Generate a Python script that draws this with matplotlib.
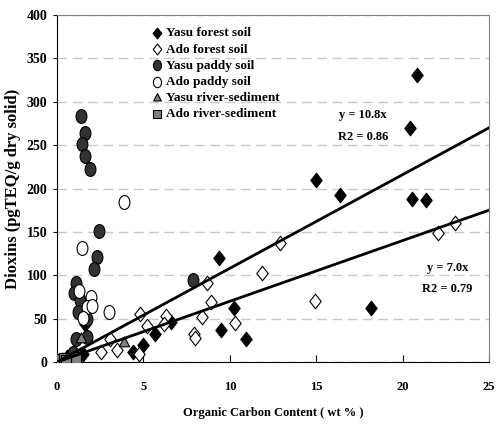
import matplotlib.pyplot as plt
import numpy as np
from matplotlib.path import Path
from matplotlib.transforms import Affine2D

plt.rcParams['font.family'] = ['Liberation Serif', 'DejaVu Serif']
plt.rcParams['font.weight'] = 'bold'

# Yasu forest soil
yasu_forest_x = [0.6, 1.0, 1.52, 1.62, 4.38, 4.99, 5.67, 6.6, 9.38, 9.5, 10.26, 10.94,
                 14.97, 16.38, 18.15, 20.43, 20.85, 20.56, 21.35]
yasu_forest_y = [6, 8, 9, 44, 12, 20, 32, 46, 120, 37, 62, 27,
                 210, 193, 62, 270, 331, 188, 187]
# Ado forest soil
ado_forest_x = [2.53, 3.07, 3.49, 4.75, 4.8, 5.19, 6.3, 6.2, 7.9, 8.0, 8.37, 8.66, 8.9,
                10.3, 11.88, 12.9, 14.93, 22.03, 23.03]
ado_forest_y = [11, 27, 14, 9, 55, 42, 53, 44, 32, 28, 52, 91, 69,
                45, 103, 137, 70, 149, 160]
# Yasu paddy soil
yasu_paddy_x = [1.37, 1.64, 1.47, 1.62, 1.91, 2.42, 2.3, 2.14, 1.1, 0.96, 1.33, 1.2,
                1.72, 1.12, 1.72, 7.85, 0.9]
yasu_paddy_y = [284, 264, 251, 238, 223, 151, 121, 107, 91, 80, 71, 58,
                50, 27, 29, 95, 10]
# Ado paddy soil
ado_paddy_x = [3.9, 1.43, 1.27, 1.95, 1.75, 2.0, 3.03, 1.49]
ado_paddy_y = [185, 132, 82, 75, 63, 64, 58, 51]
# Yasu river-sediment
yasu_river_x = [0.0, 0.3, 0.6, 1.4, 3.9]
yasu_river_y = [1, 3, 5, 26, 22]
# Ado river-sediment
ado_river_x = [0.1, 0.4, 0.8, 1.1, 0.5]
ado_river_y = [2, 3, 4, 5, 1]

slope_yasu = 10.8
slope_ado = 7.0

# the source picture is stretched vertically, so markers are taller than wide
squash = Affine2D().scale(0.78, 1.0)
m_diamond = squash.transform_path(Path([(0, 1), (1, 0), (0, -1), (-1, 0), (0, 1)], closed=True))
m_circle = squash.transform_path(Path.unit_circle())
m_triangle = Affine2D().scale(0.9, 1.0).transform_path(Path.unit_regular_polygon(3))
m_square = Affine2D().translate(-0.5, -0.5).scale(0.85, 1.0).transform_path(Path.unit_rectangle())

fig = plt.figure(figsize=(4.97, 4.24), dpi=100)
ax = fig.add_axes([0.1147, 0.1462, 0.8693, 0.8184])

ax.grid(True, axis='y', color='#c8c8c8', linestyle=(0, (7, 4)), linewidth=1)
ax.set_axisbelow(True)

ax.scatter(yasu_forest_x, yasu_forest_y, marker=m_diamond, s=110, c='black', edgecolors='black',
           linewidths=0.8, label='Yasu forest soil', zorder=3)
ax.scatter(ado_forest_x, ado_forest_y, marker=m_diamond, s=110, c='white', edgecolors='black',
           linewidths=0.8, label='Ado forest soil', zorder=3)
ax.scatter(yasu_paddy_x, yasu_paddy_y, marker=m_circle, s=100, c='#333333', edgecolors='black',
           linewidths=0.8, label='Yasu paddy soil', zorder=3)
ax.scatter(ado_paddy_x, ado_paddy_y, marker=m_circle, s=100, c='white', edgecolors='black',
           linewidths=0.8, label='Ado paddy soil', zorder=3)
ax.scatter(yasu_river_x, yasu_river_y, marker=m_triangle, s=90, c='#808080', edgecolors='black',
           linewidths=0.8, label='Yasu river-sediment', zorder=3)
ax.scatter(ado_river_x, ado_river_y, marker=m_square, s=65, c='#808080', edgecolors='black',
           linewidths=0.8, label='Ado river-sediment', zorder=3)

xs = np.array([0, 25])
ax.plot(xs, slope_yasu * xs, color='black', linewidth=2, zorder=4)
ax.plot(xs, slope_ado * xs, color='black', linewidth=2, zorder=4)

ax.text(17.7, 285, 'y = 10.8x', ha='center', va='center', fontsize=9, fontweight='bold')
ax.text(17.7, 259, 'R2 = 0.86', ha='center', va='center', fontsize=9, fontweight='bold')
ax.text(22.6, 108, 'y = 7.0x', ha='center', va='center', fontsize=9, fontweight='bold')
ax.text(22.6, 84, 'R2 = 0.79', ha='center', va='center', fontsize=9, fontweight='bold')

ax.set_xlim(0, 25)
ax.set_ylim(0, 400)
ax.set_xticks(np.arange(0, 26, 5))
ax.set_yticks(np.arange(0, 401, 50))
ax.tick_params(axis='x', direction='in', length=5, labelsize=9, pad=14)
ax.tick_params(axis='y', direction='out', length=3, labelsize=10, pad=4)
for lab in ax.get_xticklabels() + ax.get_yticklabels():
    lab.set_fontweight('bold')

ax.spines['left'].set_color('black')
ax.spines['bottom'].set_color('black')
ax.spines['top'].set_color('#808080')
ax.spines['right'].set_color('#808080')

ax.set_xlabel('Organic Carbon Content ( wt % )', fontsize=9, fontweight='bold', labelpad=10)
ax.set_ylabel('Dioxins (pgTEQ/g dry solid)', fontsize=12, fontweight='bold', labelpad=4)

leg = ax.legend(loc='upper left', bbox_to_anchor=(0.2, 0.98), frameon=False, fontsize=9.5,
                handletextpad=0.1, labelspacing=0.3, borderaxespad=0, handlelength=1.2,
                markerscale=0.75)
for t in leg.get_texts():
    t.set_fontweight('bold')

fig.savefig('out.png', dpi=100)
